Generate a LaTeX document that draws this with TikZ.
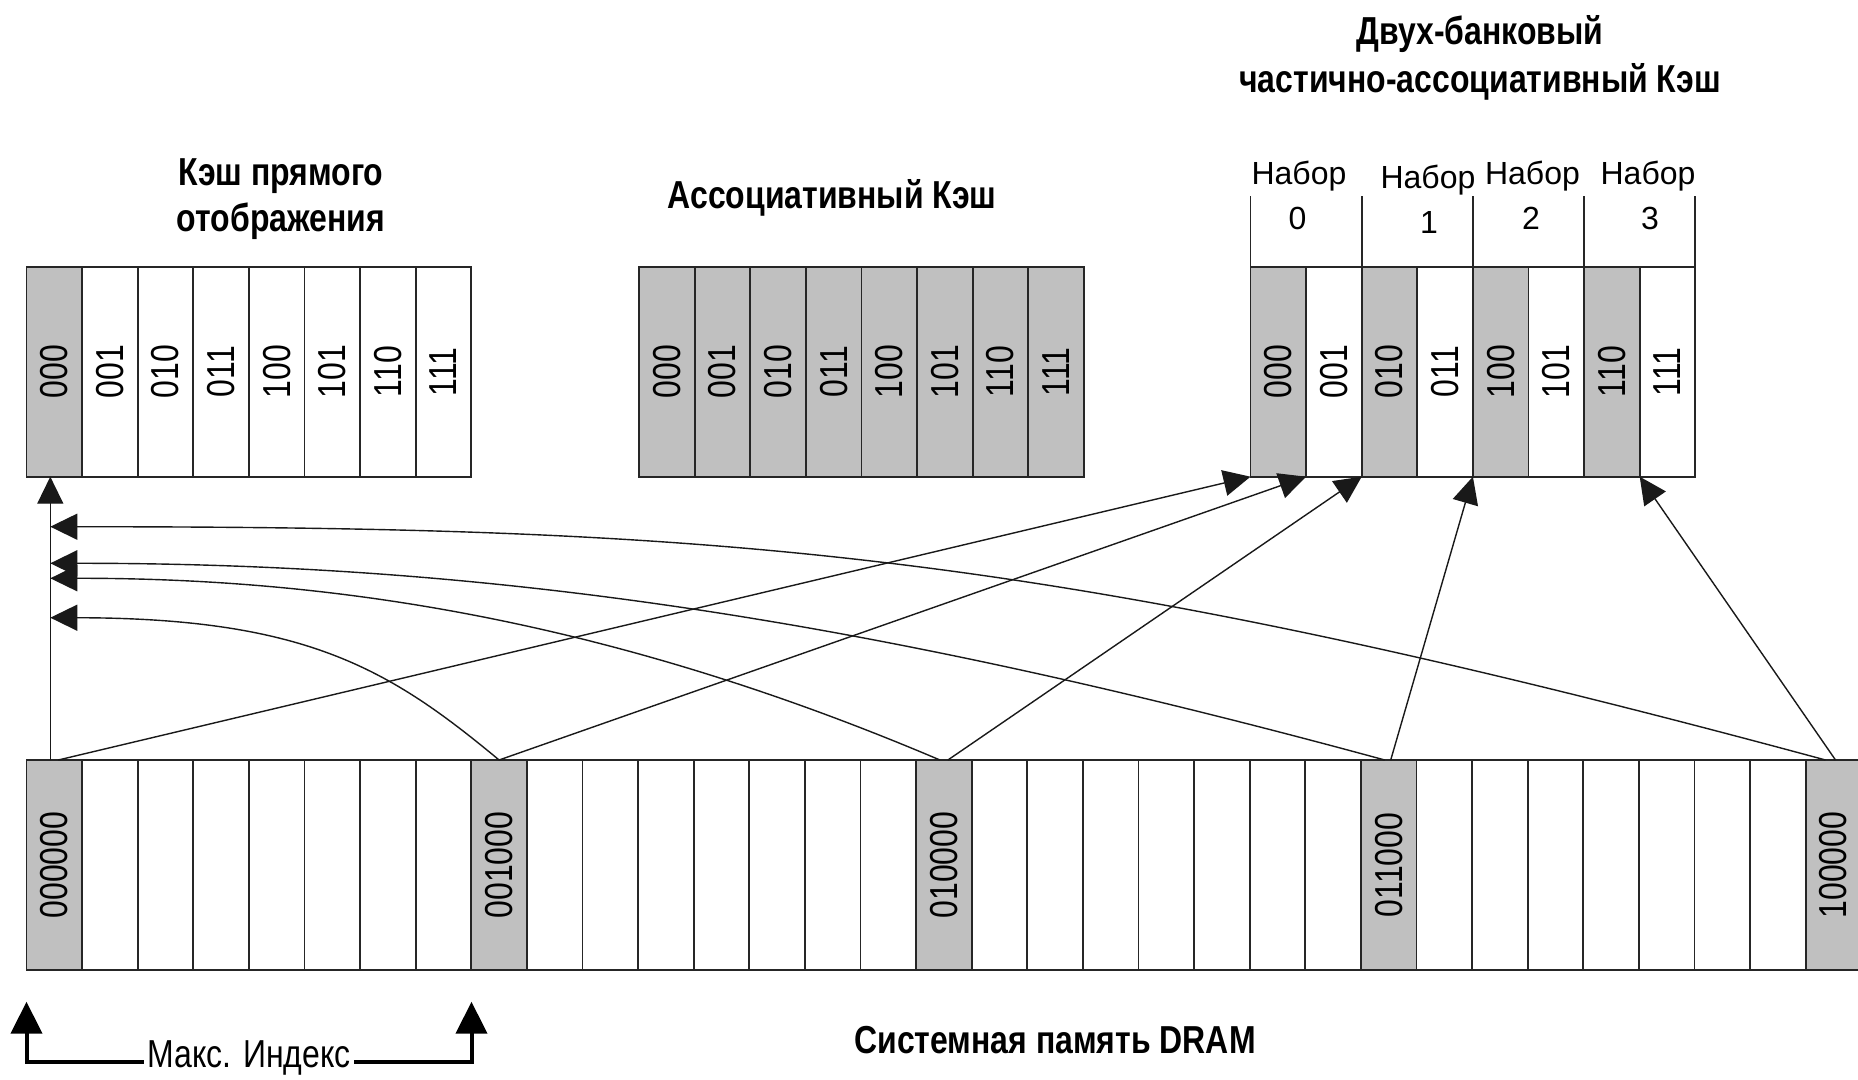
\documentclass[tikz,border=0pt]{standalone}
\usepackage{fontspec}
\setmainfont{Liberation Sans}[FakeStretch=0.82]
\newfontfamily\setfont{Liberation Sans}
\usetikzlibrary{arrows.meta}
\definecolor{cellgray}{RGB}{192,192,192}

\begin{document}
\begin{tikzpicture}[x=0.5pt,y=-0.5pt,
  cellbox/.style={draw=black!85,line width=0.9pt,minimum width=27.8pt,
    minimum height=105pt,inner sep=0pt,outer sep=0pt,anchor=north west},
  cellfill/.code={\ifnum#1=0 \pgfkeysalso{fill=cellgray}\else\pgfkeysalso{fill=white}\fi},
  celltxt/.style={rotate=90,inner sep=0pt,font=\fontsize{19.5}{23}\selectfont},
  title/.style={anchor=base,inner sep=0pt,font=\fontsize{19.5}{23}\selectfont\bfseries},
  setlbl/.style={anchor=base,inner sep=0pt,font=\setfont\fontsize{16}{19}\selectfont},
  link/.style={draw=black!90,line width=0.7pt},
  tip/.style={-{Triangle[length=13.5pt,width=13pt]}},
  span/.style={draw=black,line width=2pt,-{Triangle[length=16pt,width=15.5pt]}},
  sep/.style={draw=black!85,line width=0.9pt},
]
\fill[white] (0,0) rectangle (1858,1080);
\useasboundingbox (0,0) rectangle (1858,1080);

% direct-mapped cache: one shaded line
\foreach \i in {0,...,7}
  \node[cellbox,cellfill=\i] (dc\i) at ({26.5+\i*55.6},266.7) {};
\foreach \i/\t in {0/000,1/001,2/010,3/011,4/100,5/101,6/110,7/111}
  \node[celltxt] at (dc\i.center) {\t};

% fully associative cache: every line shaded
\foreach \i in {0,...,7}
  \node[cellbox,cellfill=0] (ac\i) at ({639+\i*55.6},266.7) {};
\foreach \i/\t in {0/000,1/001,2/010,3/011,4/100,5/101,6/110,7/111}
  \node[celltxt] at (ac\i.center) {\t};

% two-way set-associative cache
\foreach \i in {0,...,7}{
  \pgfmathtruncatemacro\r{mod(\i,2)}
  \node[cellbox,cellfill=\r] (sc\i) at ({1250.5+\i*55.6},266.7) {};
}
\foreach \i/\t in {0/000,1/001,2/010,3/011,4/100,5/101,6/110,7/111}
  \node[celltxt] at (sc\i.center) {\t};
\foreach \k in {0,2,4,6}
  \draw[sep] (sc\k.north west) -- ++(0,-70.7);
\draw[sep] (sc7.north east) -- ++(0,-70.7);

% system memory
\foreach \i in {0,...,32}{
  \pgfmathtruncatemacro\r{mod(\i,8)}
  \node[cellbox,cellfill=\r] (m\i) at ({26.5+\i*55.6},760) {};
}
\foreach \i/\t in {0/000000,8/001000,16/010000,24/011000,32/100000}
  \node[celltxt] at (m\i.center) {\t};

% titles
\node[title] (t1a) at (281,186) {Кэш прямого};
\node[title] (t1b) at (281,232) {отображения};
\node[title] (t2) at (832,208.5) {Ассоциативный Кэш};
\node[title] (t3a) at (1480,45) {Двух-банковый};
\node[title] (t3b) at (1480,92.5) {частично-ассоциативный Кэш};
\node[title] (t4) at (1055,1053) {Системная память DRAM};

% set labels
\node[setlbl] (n0) at (1299,184.5) {Набор};
\node[setlbl] (n1) at (1428,188.5) {Набор};
\node[setlbl] (n2) at (1532.5,184.5) {Набор};
\node[setlbl] (n3) at (1648,184.5) {Набор};
\node[setlbl] (d0) at (1297.5,230) {0};
\node[setlbl] (d1) at (1429,234) {1};
\node[setlbl] (d2) at (1531,230) {2};
\node[setlbl] (d3) at (1650,230) {3};

% direct-mapped placement
\coordinate (v0) at ([xshift=-2pt]m0.north);
\coordinate (s0) at ([xshift=2pt]m0.north);
\coordinate (h1) at (50.3,526.7);
\coordinate (h2) at (50.3,563.3);
\coordinate (h3) at (50.3,578.3);
\coordinate (h4) at (50.3,617.7);
\draw[link,tip] (v0) -- (v0 |- dc0.south);
\draw[link,tip] ([xshift=-4pt]m32.north) .. controls (1049,550) and (723,527) .. (h1);
\draw[link,tip] ([xshift=-2pt]m24.north) .. controls (885,624) and (502,563) .. (h2);
\draw[link,tip] ([xshift=-2pt]m16.north) .. controls (613,621) and (336,578) .. (h3);
\draw[link,tip] (m8.north) .. controls (390,669.5) and (307,618) .. (h4);

% set-associative placement
\draw[link,tip] (s0) -- (sc0.south west);
\draw[link,tip] (m8.north) -- (sc0.south east);
\draw[link,tip] ([xshift=2pt]m16.north) -- (sc1.south east);
\draw[link,tip] ([xshift=1pt]m24.north) -- (sc3.south east);
\draw[link,tip] ([xshift=1pt]m32.north) -- (sc6.south east);

% index span
\node[anchor=mid,inner sep=1.5pt,font=\fontsize{19.5}{23}\selectfont] (mk) at (249,1062) {Макс. Индекс};
\coordinate (bl) at (26.5,1001.7);
\coordinate (br) at (471.5,1001.7);
\draw[span] (mk.mid west) -| (bl);
\draw[span] (mk.mid east) -| (br);
\end{tikzpicture}
\end{document}
